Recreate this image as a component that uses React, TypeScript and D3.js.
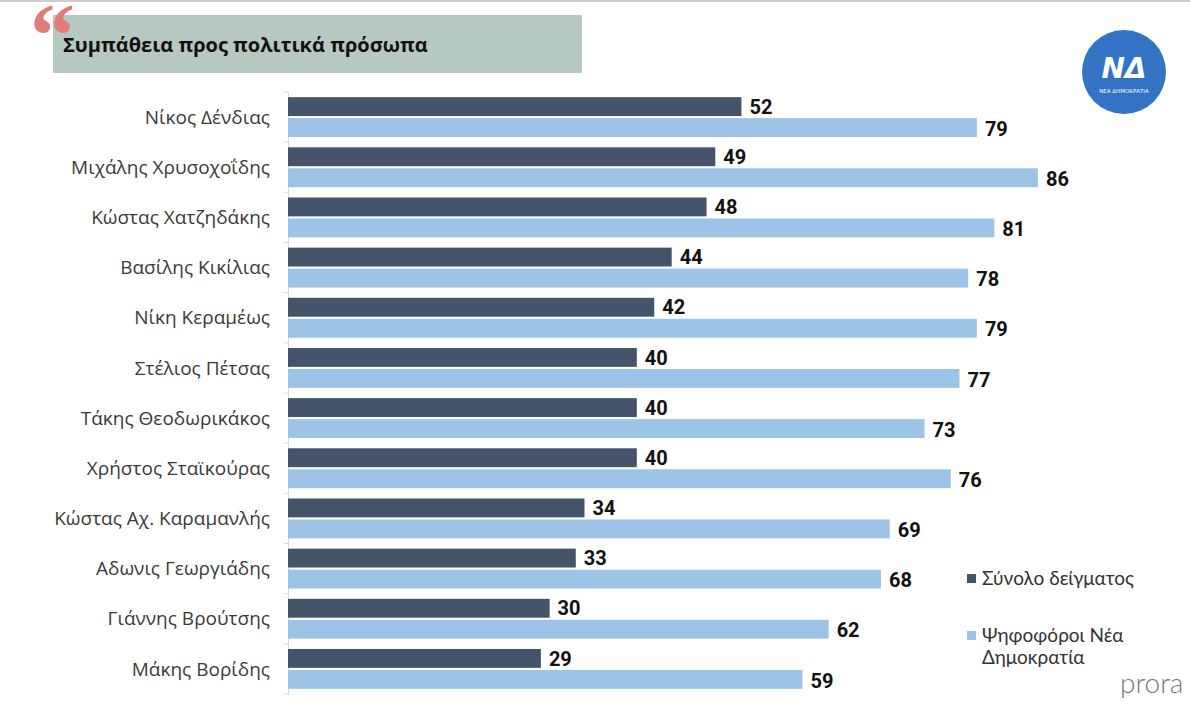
import { useEffect, useRef } from "react";
import * as d3 from "d3";

// survey: favourability towards political figures (%)
const names = [
  "Νίκος Δένδιας",
  "Μιχάλης Χρυσοχοΐδης",
  "Κώστας Χατζηδάκης",
  "Βασίλης Κικίλιας",
  "Νίκη Κεραμέως",
  "Στέλιος Πέτσας",
  "Τάκης Θεοδωρικάκος",
  "Χρήστος Σταϊκούρας",
  "Κώστας Αχ. Καραμανλής",
  "Αδωνις Γεωργιάδης",
  "Γιάννης Βρούτσης",
  "Μάκης Βορίδης",
];
const totalSample = [52, 49, 48, 44, 42, 40, 40, 40, 34, 33, 30, 29];
const ndVoters = [79, 86, 81, 78, 79, 77, 73, 76, 69, 68, 62, 59];
const seriesKeys = ["total", "nd"];
const seriesLabels = ["Σύνολο δείγματος", "Ψηφοφόροι Νέα Δημοκρατία"];

const W = 1190;
const H = 706;
const colors: Record<string, string> = { total: "#44546a", nd: "#9dc3e6" };

export default function App() {
  const ref = useRef<SVGGElement>(null);

  useEffect(() => {
    const g = d3.select(ref.current);

    const y = d3.scaleBand<string>().domain(names).range([92, 694]);
    const inner = d3
      .scaleBand<string>()
      .domain(seriesKeys)
      .range([0, y.bandwidth()])
      .paddingInner(0.1)
      .paddingOuter(0.245);
    const x = d3.scaleLinear().domain([0, 100]).range([288, 1160]);

    const rows = names.map((n, i) => ({ name: n, total: totalSample[i], nd: ndVoters[i] }));

    // left axis with category ticks
    const axis = g
      .append("g")
      .attr("transform", `translate(${x(0)},0)`)
      .call(d3.axisLeft(y).tickSize(0).tickFormat(() => ""));
    axis.select(".domain").attr("stroke", "#d9d9d9");
    axis
      .selectAll("line.sep")
      .data([...names.map((n) => y(n)!), 694])
      .join("line")
      .attr("class", "sep")
      .attr("x1", -4)
      .attr("x2", 0)
      .attr("y1", (d) => d)
      .attr("y2", (d) => d)
      .attr("stroke", "#d9d9d9");

    g.selectAll("text.cat")
      .data(rows)
      .join("text")
      .attr("class", "cat")
      .attr("x", 270)
      .attr("y", (d) => y(d.name)! + y.bandwidth() / 2)
      .attr("dy", "0.35em")
      .attr("text-anchor", "end")
      .attr("font-family", "'Open Sans', sans-serif")
      .attr("font-size", 19)
      .attr("fill", "#3a3a3a")
      .text((d) => d.name);

    const groups = g
      .selectAll("g.row")
      .data(rows)
      .join("g")
      .attr("class", "row")
      .attr("transform", (d) => `translate(0,${y(d.name)})`);

    seriesKeys.forEach((k) => {
      groups
        .append("rect")
        .attr("x", x(0))
        .attr("y", inner(k)!)
        .attr("height", inner.bandwidth())
        .attr("width", (d: any) => x(d[k]) - x(0))
        .attr("fill", colors[k]);
      groups
        .append("text")
        .attr("x", (d: any) => x(d[k]) + 8)
        .attr("y", inner(k)! + inner.bandwidth() / 2 + (k === "nd" ? 1 : 0))
        .attr("dy", "0.36em")
        .attr("font-family", "'Liberation Sans Narrow', 'Roboto', sans-serif")
        .attr("font-weight", "bold")
        .attr("font-size", 20)
        .attr("fill", "#111")
        .text((d: any) => d[k]);
    });

    // legend
    const legend = g.append("g").attr("font-family", "'Lato', 'Open Sans', sans-serif");
    const legendY = [580, 637];
    seriesKeys.forEach((k, i) => {
      legend
        .append("rect")
        .attr("x", 967)
        .attr("y", legendY[i] - 6)
        .attr("width", 9)
        .attr("height", 9)
        .attr("fill", colors[k]);
    });
    legend
      .append("text")
      .attr("x", 982)
      .attr("y", legendY[0] + 5)
      .attr("font-size", 19)
      .attr("fill", "#333")
      .text(seriesLabels[0]);
    const words = seriesLabels[1].split(" ");
    legend
      .append("text")
      .attr("x", 982)
      .attr("y", legendY[1] + 5)
      .attr("font-size", 19)
      .attr("fill", "#333")
      .selectAll("tspan")
      .data([words.slice(0, 2).join(" "), words.slice(2).join(" ")])
      .join("tspan")
      .attr("x", 982)
      .attr("dy", (_, i) => (i === 0 ? 0 : 22))
      .text((d) => d);

    return () => {
      g.selectAll("*").remove();
    };
  }, []);

  return (
    <svg
      width={W}
      height={H}
      style={{ position: "absolute", left: 0, top: 0, background: "#fff" }}
    >
      <line x1={0} x2={W} y1={1} y2={1} stroke="#cfcfcf" strokeWidth={2} />
      <rect x={53} y={15} width={529} height={58} fill="#b5c9c1" />
      <text x={30} y={66} fontFamily="'Liberation Serif', serif" fontWeight="bold" fontSize={90} fill="#e07b78">
        “
      </text>
      <text x={63} y={52} fontFamily="'Open Sans', sans-serif" fontWeight="bold" fontSize={20} fill="#111">
        Συμπάθεια προς πολιτικά πρόσωπα
      </text>

      {/* party logo */}
      <circle cx={1124} cy={72} r={42} fill="#3472c4" />
      <text x={1124} y={78} textAnchor="middle" fontFamily="'DejaVu Sans', sans-serif" fontWeight="bold" fontStyle="italic" fontSize={28} fill="#fff">
        ΝΔ
      </text>
      <text x={1124} y={93} textAnchor="middle" fontFamily="'DejaVu Sans', sans-serif" fontSize={5.5} fill="#fff">
        ΝΕΑ ΔΗΜΟΚΡΑΤΙΑ
      </text>

      <g ref={ref} />

      <text x={1120} y={693} fontFamily="'Lato', sans-serif" fontWeight="300" fontSize={28} fill="#777">
        prora
      </text>
    </svg>
  );
}
